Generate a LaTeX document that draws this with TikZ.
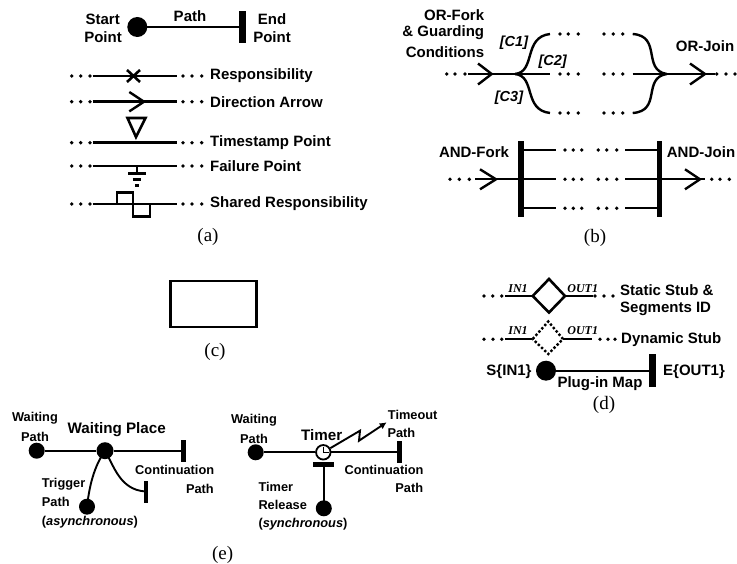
\documentclass[tikz,border=0pt]{standalone}
\usepackage{fontspec}
\setmainfont{Liberation Sans}
\newfontfamily\capfont{Liberation Serif}
\usetikzlibrary{arrows.meta}
\tikzset{
  x=1pt,y=-1pt,
  lab/.style={font=\fontsize{15}{15}\selectfont\bfseries,inner sep=0pt},
  biglab/.style={font=\fontsize{15.2}{15}\selectfont\bfseries,inner sep=0pt},
  smlab/.style={font=\fontsize{12.8}{13}\selectfont\bfseries,inner sep=0pt},
  guard/.style={font=\fontsize{14.5}{15}\selectfont\bfseries\itshape,inner sep=0pt},
  segid/.style={font=\capfont\fontsize{12}{12}\selectfont\bfseries\itshape,inner sep=0pt},
  capt/.style={font=\capfont\fontsize{19}{19}\selectfont,inner sep=0pt},
  pt/.style={circle,fill=black,inner sep=0pt,minimum size=#1},
  endbar/.style 2 args={rectangle,fill=black,inner sep=0pt,minimum width=#1,minimum height=#2},
  path line/.style={line width=2.4pt},
  thin path/.style={line width=1.9pt},
  chev/.style={line width=2.4pt,line join=miter},
  tdot/.style={circle,fill=black,inner sep=0pt,minimum size=3.8pt},
}
\newcommand{\tridots}[4]{\foreach \dx in {#2,#3,#4} \node[tdot] at (\dx,#1) {};}
\begin{document}
\begin{tikzpicture}
\useasboundingbox (0,0) rectangle (737,564);
% ---------- (a)
\node[pt=20pt] (as) at (137.3,27) {};
\node[endbar={7pt}{32pt}] (ae) at (242.7,27) {};
\draw[path line] (as.center) -- (ae.center);
\node[lab] (t1) at (102.7,19) {Start};
\node[lab] (t2) at (103,37) {Point};
\node[lab] (t3) at (190,16) {Path};
\node[lab] (t4) at (272,19) {End};
\node[lab] (t5) at (272,37) {Point};
\foreach \nm/\yy/\tx in {r/76/Responsibility,d/101.7/Direction Arrow,t/142.7/Timestamp Point,f/166/Failure Point,h/204/Shared Responsibility}{
  \coordinate (\nm a) at (92.7,\yy);
  \coordinate (\nm b) at (177.3,\yy);
  \draw[path line] (\nm a) -- (\nm b);
  \tridots{\yy}{71.7}{80.7}{90}
  \tridots{\yy}{183}{192}{201.7}
  \node[lab,anchor=west] (\nm l) at (210,\yy) {\tx};
}
\draw[line width=2.6pt] (127,70) -- (140,82) (140,70) -- (127,82);
\draw[chev] (129.3,92) -- (144,101.7) -- (129.3,111.4);
\draw[line width=2.6pt,line join=miter] (127.5,118) -- (145.5,118) -- (136,137) -- cycle;
\draw[line width=2pt] (136.7,166) -- (136.7,173);
\draw[line width=2.4pt] (128.3,173.5) -- (146,173.5) (132.7,179.5) -- (140.7,179.5) (135,185.7) -- (139,185.7);
\draw[path line] (116.7,204) -- (116.7,192.7) -- (132.7,192.7) -- (132.7,216.7) -- (150,216.7) -- (150,204);
\node[capt] (capa) at (208,237) {(a)};
% ---------- (b)
\coordinate (bi) at (468,74);
\coordinate (bf) at (515,74);
\coordinate (bc1) at (550,34);
\coordinate (bc2) at (550,74);
\coordinate (bc3) at (550,113);
\coordinate (bd1) at (632.7,34);
\coordinate (bd2) at (632.7,74);
\coordinate (bd3) at (632.7,113);
\coordinate (bj) at (666.7,74);
\coordinate (bo) at (715,74);
\draw[path line] (bi) -- (bc2);
\draw[path line] (bf) .. controls (536,72) and (523,37) .. (bc1);
\draw[path line] (bf) .. controls (536,76) and (523,110) .. (bc3);
\draw[path line] (bd1) .. controls (662,36) and (642,70) .. (bj);
\draw[path line] (bd3) .. controls (662,111) and (642,78) .. (bj);
\draw[path line] (bd2) -- (bo);
\draw[chev] (478,63.5) -- (491.7,74) -- (478,84.5);
\draw[chev] (690,63.5) -- (705,74) -- (690,84.5);
\tridots{74}{446.7}{455}{465}
\tridots{74}{716.7}{726}{735}
\foreach \yy in {34,74,113}{
  \tridots{\yy}{560}{568.3}{578.3}
  \tridots{\yy}{604}{613.3}{622.7}
}
\node[lab,anchor=east] (b1) at (484.3,15) {OR-Fork};
\node[lab,anchor=east] (b2) at (484.3,33) {\& Guarding};
\node[lab,anchor=east] (b3) at (484.3,52) {Conditions};
\node[lab] (b4) at (705,46) {OR-Join};
\node[guard] (c1) at (514,43) {[C1]};
\node[guard] (c2) at (552.7,62) {[C2]};
\node[guard] (c3) at (509,98) {[C3]};
\node[endbar={6pt}{76pt}] (af) at (521,179) {};
\node[endbar={5pt}{76pt}] (aj) at (659,179) {};
\foreach \nm/\yy in {u/150,m/179.3,w/208.3}{
  \coordinate (\nm 1) at (556,\yy);
  \coordinate (\nm 2) at (625,\yy);
  \draw[path line] (521,\yy) -- (\nm 1);
  \draw[path line] (\nm 2) -- (659,\yy);
  \tridots{\yy}{565}{573.3}{581.7}
  \tridots{\yy}{598.3}{606.7}{616.7}
}
\coordinate (ami) at (475,179.3);
\coordinate (amo) at (705,179.3);
\draw[path line] (ami) -- (521,179.3);
\draw[path line] (659,179.3) -- (amo);
\draw[chev] (480,169.3) -- (496,179.3) -- (480,189.3);
\draw[chev] (685,169.3) -- (700,179.3) -- (685,189.3);
\tridots{179.3}{450}{459.3}{469.3}
\tridots{179.3}{711.7}{720}{729.3}
\node[lab] (b5) at (474,152) {AND-Fork};
\node[lab] (b6) at (701,152) {AND-Join};
\node[capt] (capb) at (595,238) {(b)};
% ---------- (c)
\node[draw,line width=2.4pt,minimum width=86pt,minimum height=46pt,inner sep=0pt] (stubc) at (213.3,304) {};
\node[capt] (capc) at (215,352) {(c)};
% ---------- (d)
\coordinate (s1) at (505,296);
\coordinate (s2) at (593,296);
\coordinate (y1) at (505,339.3);
\coordinate (y2) at (592,339.3);
\draw[line width=2.6pt,line join=miter] (532.7,296) -- (549,279) -- (565,296) -- (549,312.5) -- cycle;
\draw[path line] (s1) -- (532.7,296) (565,296) -- (s2);
\draw[line width=2.4pt,dash pattern=on 2.4pt off 2pt] (532.7,339) -- (548.3,321.5) -- (563,339) -- (548.3,354) -- cycle;
\draw[path line] (y1) -- (532,339.3) (563,339.3) -- (y2);
\tridots{296}{484}{492.7}{501.7}
\tridots{296}{595}{604}{613}
\tridots{339.3}{484}{493}{501.7}
\tridots{339.3}{600}{608}{615}
\node[segid] (i1) at (518,289) {IN1};
\node[segid] (o1) at (582.7,289) {OUT1};
\node[segid] (i2) at (518,331) {IN1};
\node[segid] (o2) at (582.7,331) {OUT1};
\node[lab,anchor=west] (d1) at (620,290) {Static Stub \&};
\node[lab,anchor=west] (d2) at (620,309) {Segments ID};
\node[lab,anchor=west] (d3) at (621,339.3) {Dynamic Stub};
\node[pt=20pt] (ms) at (546,370.7) {};
\node[endbar={7pt}{33pt}] (me) at (652,370.7) {};
\draw[path line] (ms.center) -- (me.center);
\node[lab] (d4) at (509,372) {S\{IN1\}};
\node[lab] (d5) at (694,372) {E\{OUT1\}};
\node[lab] (d6) at (600,384) {Plug-in Map};
\node[capt] (capd) at (604,405) {(d)};
% ---------- (e) left
\node[pt=16pt] (wa) at (36.7,450.7) {};
\node[pt=17pt] (wp) at (105,450.7) {};
\node[endbar={5pt}{22pt}] (we) at (183.7,450.7) {};
\node[pt=16pt] (wt) at (87,506.7) {};
\node[endbar={4pt}{22pt}] (wc) at (145.7,491.5) {};
\draw[thin path] (wa) -- (wp) -- (we.center);
\draw[thin path] (wp.center) .. controls (96,464) and (90,480) .. (wt.center);
\draw[thin path] (wp.center) .. controls (114,466) and (120,490) .. (wc.center);
\node[smlab] (e1) at (35,418) {Waiting};
\node[smlab] (e2) at (35,436.7) {Path};
\node[biglab] (e3) at (116.7,430) {Waiting Place};
\node[smlab] (e4) at (174.7,470) {Continuation};
\node[smlab,anchor=east] (e5) at (214,489) {Path};
\node[smlab,anchor=west] (e6) at (41.7,484) {Trigger};
\node[smlab,anchor=west] (e7) at (41.7,502) {Path};
\node[smlab,anchor=west] (e8) at (41.7,521.7) {(\textit{asynchronous})};
% ---------- (e) right
\node[pt=16pt] (ta) at (255.7,452.3) {};
\node[endbar={5pt}{22pt}] (te) at (399.3,452.3) {};
\node[draw,fill=white,circle,line width=1.8pt,inner sep=0pt,minimum size=14.5pt] (tc) at (323.3,452.3) {};
\node[endbar={21pt}{5pt}] (tb) at (323.8,464.7) {};
\node[pt=16pt] (tr) at (323.8,508.3) {};
\draw[thin path] (ta) -- (tc) (tc) -- (te.center);
\draw[thin path] (tb.center) -- (tr.center);
\draw[line width=1.6pt] (tc.center) -- ++(0,-5.5) (tc.center) -- ++(5.5,0);
\coordinate (tk1) at (360,430.7);
\coordinate (tk2) at (359,440.7);
\coordinate (tk3) at (386.7,422.3);
\draw[thin path,-{Latex[length=7pt,width=7pt]}] (tc) -- (tk1) -- (tk2) -- (tk3);
\node[smlab] (f1) at (254,420) {Waiting};
\node[smlab] (f2) at (254,439) {Path};
\node[biglab] (f3) at (321.7,435) {Timer};
\node[smlab] (f4) at (412.7,415) {Timeout};
\node[smlab,anchor=west] (f5) at (387.3,433.3) {Path};
\node[smlab] (f6) at (384,470) {Continuation};
\node[smlab,anchor=east] (f7) at (423.3,488.3) {Path};
\node[smlab,anchor=west] (f8) at (258.3,486.7) {Timer};
\node[smlab,anchor=west] (f9) at (258.3,505) {Release};
\node[smlab,anchor=west] (f10) at (258.3,524.3) {(\textit{synchronous})};
\node[capt] (cape) at (222.7,555) {(e)};
\end{tikzpicture}
\end{document}
